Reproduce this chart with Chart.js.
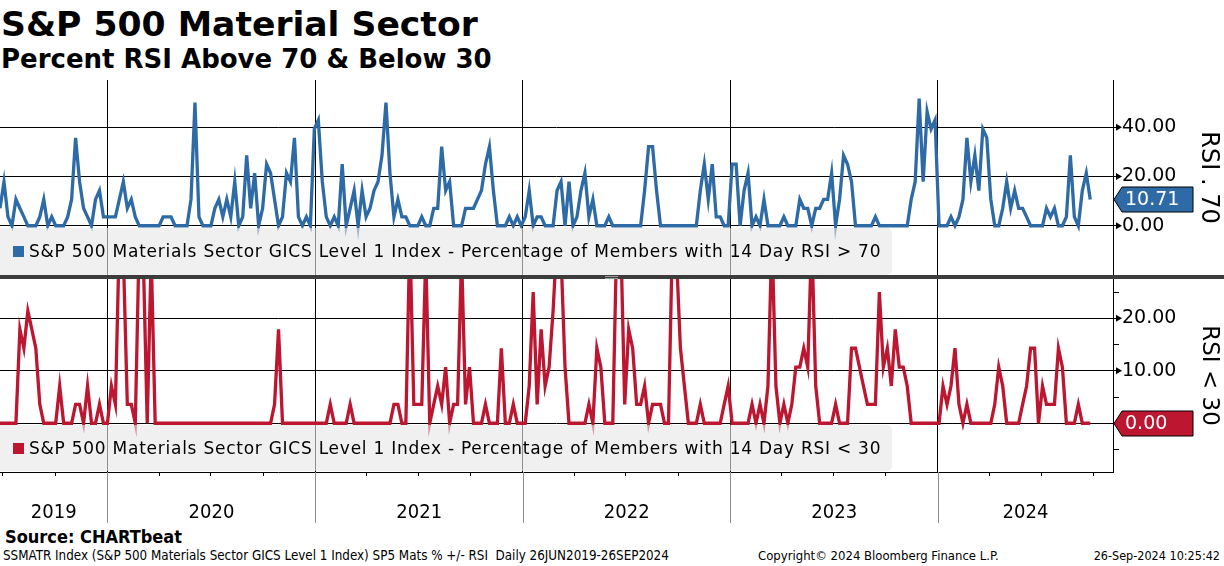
<!DOCTYPE html>
<html><head><meta charset="utf-8">
<script src="https://cdn.jsdelivr.net/npm/chart.js@4.4.1/dist/chart.umd.min.js"></script>
<style>
html,body{margin:0;padding:0;background:#fff;}
body{width:1224px;height:566px;position:relative;overflow:hidden;font-family:"DejaVu Sans",sans-serif;color:#000;}
.abs{position:absolute;white-space:nowrap;}
#title{left:1px;top:7px;font-size:34.6px;font-weight:bold;line-height:35px;}
#subtitle{left:1px;top:46px;font-size:26px;font-weight:bold;line-height:26px;}
canvas{position:absolute;left:0;}
#c1{top:80px;}
#c2{top:279px;}
#sep{left:0;top:275px;width:1224px;height:4px;background:#3c3c3c;}
#grip{left:605px;top:276px;width:13px;height:1px;border-top:1px solid #9a9a9a;border-bottom:1px solid #9a9a9a;}
.leg{left:0;width:892px;background:rgba(230,230,230,0.62);border-radius:0 5px 5px 0;font-size:17px;letter-spacing:0.75px;}
.leg .sq{display:inline-block;width:11px;height:11px;margin:0 5px 0 13px;vertical-align:0px;}
#leg1{top:228px;height:47px;line-height:47px;}
#leg2{top:425px;height:46px;line-height:46px;}
.cond{font-family:"DejaVu Sans Condensed","Liberation Sans Narrow",sans-serif;}
#source{left:5px;top:528px;font-size:18px;font-weight:bold;line-height:18px;}
.foot{top:549px;font-size:13px;line-height:14px;}
#f1{left:3px;font-size:13.3px;}
#f2{left:758px;}
#f3{right:4px;font-size:12.5px;}
</style>
</head>
<body>
<div id="title" class="abs">S&amp;P 500 Material Sector</div>
<div id="subtitle" class="abs">Percent RSI Above 70 &amp; Below 30</div>
<canvas id="c1" width="1224" height="195"></canvas>
<canvas id="c2" width="1224" height="246"></canvas>
<div id="sep" class="abs"></div>
<div id="grip" class="abs"></div>
<div id="leg1" class="abs leg"><span class="sq" style="background:#2d6aa6"></span>S&amp;P 500 Materials Sector GICS Level 1 Index - Percentage of Members with 14 Day RSI &gt; 70</div>
<div id="leg2" class="abs leg"><span class="sq" style="background:#bc1630"></span>S&amp;P 500 Materials Sector GICS Level 1 Index - Percentage of Members with 14 Day RSI &lt; 30</div>
<div id="source" class="abs cond">Source: CHARTbeat</div>
<div id="f1" class="abs foot cond">SSMATR Index (S&amp;P 500 Materials Sector GICS Level 1 Index) SP5 Mats % +/- RSI&nbsp; Daily 26JUN2019-26SEP2024</div>
<div id="f2" class="abs foot cond">Copyright© 2024 Bloomberg Finance L.P.</div>
<div id="f3" class="abs foot cond">26-Sep-2024 10:25:42</div>
<script>
// ---- data (weekly samples starting 26 Jun 2019) ----
const startDate = '2019-06-26';
const stepDays = 7;
const axisEndDate = '2024-11-04';
const yearLabels = ['2019','2020','2021','2022','2023','2024'];
const rsiAbove70 = [
 7.1,17.9,3.6,0,10.7,7.1,3.6,0,0,0,
 3.6,10.7,0,3.6,0,0,0,3.6,10.7,35.7,
 17.9,7.1,3.6,0,10.7,14.3,3.6,3.6,3.6,3.6,
 10.7,17.9,7.1,10.7,3.6,0,0,0,0,0,
 0,3.6,3.6,3.6,0,0,0,0,10.7,50,
 3.6,0,0,0,7.1,10.7,3.6,10.7,3.6,17.9,
 0,3.6,28.6,7.1,21.4,0,7.1,25,21.4,10.7,
 0,3.6,21.4,17.9,35.7,3.6,0,3.6,0,39.3,
 42.9,17.9,3.6,0,3.6,0,25,0,7.1,14.3,
 0,14.3,3.6,7.1,14.3,17.9,28.6,50,21.4,3.6,
 10.7,3.6,3.6,0,0,0,3.6,0,0,7.1,
 7.1,32.1,14.3,17.9,0,0,0,7.1,7.1,7.1,
 10.7,14.3,25,32.1,14.3,0,0,0,3.6,0,
 3.6,0,3.6,14.3,0,3.6,3.6,0,0,0,
 14.3,17.9,0,17.9,0,3.6,14.3,21.4,3.6,10.7,
 0,0,0,3.6,0,0,0,0,0,0,
 0,0,14.3,32.1,32.1,14.3,0,0,0,0,
 0,0,0,0,0,0,14.3,25,10.7,25,
 3.6,3.6,0,0,25,25,0,14.3,21.4,0,
 3.6,0,10.7,0,0,0,0,3.6,0,0,
 0,10.7,7.1,7.1,0,7.1,7.1,10.7,10.7,21.4,
 0,10.7,28.6,25,17.9,0,0,0,0,0,
 3.6,0,0,0,0,0,0,0,0,10.7,
 17.9,51.7,17.9,46.4,39.3,42.9,0,0,0,3.6,
 0,3.6,10.7,35.7,17.9,28.6,14.3,39.3,35.7,10.7,
 0,0,7.1,17.9,7.1,14.3,7.1,7.1,3.6,0,
 0,0,0,7.1,3.6,7.1,0,0,3.6,28.6,
 3.6,0,14.3,21.4,10.71
];
const rsiBelow30 = [
 0,0,0,0,0,17.9,14.3,21.4,17.9,14.3,
 3.6,0,0,0,0,7.1,0,0,0,3.6,
 3.6,0,7.1,0,0,3.6,0,0,7.1,3.6,
 35.7,32.1,3.6,3.6,0,35.7,32.1,0,32.1,0,
 0,0,0,0,0,0,0,0,0,0,
 0,0,0,0,0,0,0,0,0,0,
 0,0,0,0,0,0,0,0,0,3.6,
 17.9,0,0,0,0,0,0,0,0,0,
 0,0,0,3.6,0,0,0,0,3.6,0,
 0,0,0,0,0,0,0,0,0,3.6,
 3.6,0,0,35.7,3.6,3.6,3.6,32.1,0,3.6,
 7.1,3.6,10.7,0,3.6,3.6,32.1,3.6,10.7,0,
 0,0,3.6,0,0,0,14.3,0,0,3.6,
 0,0,0,7.1,25,3.6,17.9,7.1,10.7,21.4,
 35.7,32.1,10.7,0,0,0,0,0,3.6,0,
 14.3,10.7,0,0,0,35.7,35.7,3.6,17.9,14.3,
 3.6,3.6,7.1,0,3.6,3.6,3.6,0,0,35.7,
 32.1,14.3,7.1,0,0,0,3.6,0,0,0,
 0,0,3.6,7.1,0,0,0,0,0,3.6,
 0,3.6,0,7.1,35.7,7.1,0,3.6,0,3.6,
 10.7,10.7,14.3,10.7,35.7,7.1,0,0,0,0,
 3.6,0,0,0,14.3,14.3,10.7,7.1,3.6,3.6,
 3.6,25,10.7,14.3,7.1,17.9,10.7,10.7,7.1,0,
 0,0,0,0,0,0,0,7.1,3.6,7.1,
 14.3,3.6,0,3.6,0,0,0,0,0,0,
 3.6,10.7,7.1,0,0,0,0,3.6,7.1,14.3,
 14.3,0,7.1,3.6,3.6,3.6,14.3,10.7,0,0,
 0,3.6,0,0,0
];
const topAxis = {min:-20, max:59.2, step:10, major:[0,20,40], title:'RSI . 70', titleSize:24};
const botAxis = {min:-9.3, max:27.5, step:5, major:[0,10,20], title:'RSI < 30', titleSize:23};

// ---- helpers ----
const DAY = 86400000;
const t0 = Date.parse(startDate + 'T00:00:00Z');
const dayOf = (y,m,d) => Math.round((Date.UTC(y,m,d) - t0) / DAY);
const xMax = Math.round((Date.parse(axisEndDate + 'T00:00:00Z') - t0) / DAY);
const yearStarts = [2020,2021,2022,2023,2024].map(y => dayOf(y,0,1));
const bounds = [0, ...yearStarts, xMax];
const yearMids = yearLabels.map((l,i) => (bounds[i] + bounds[i+1]) / 2);
const quarterTicks = [];
for (let y = 2019; y <= 2024; y++) for (const m of [3,6,9]) {
  const d = dayOf(y,m,1); if (d >= 0 && d <= xMax) quarterTicks.push(d);
}
const toPts = arr => arr.map((v,i) => ({x: i * stepDays, y: v}));

const BLUE = '#2d6aa6', RED = '#bc1630';
const FONT = '"DejaVu Sans", sans-serif';
const CFONT = '"DejaVu Sans Condensed", "Liberation Sans Narrow", sans-serif';
const AXIS_W = 111;

const markerPlugin = {
  id: 'marker',
  afterDraw(chart, args, opts) {
    const ctx = chart.ctx, ys = chart.scales.y, area = chart.chartArea;
    const x0 = area.right;
    ctx.save();
    ctx.fillStyle = '#000';
    opts.major.forEach(v => {
      const py = ys.getPixelForValue(v);
      ctx.beginPath(); ctx.moveTo(x0 + 3, py - 3.5); ctx.lineTo(x0 + 9, py); ctx.lineTo(x0 + 3, py + 3.5); ctx.closePath(); ctx.fill();
    });
    const data = chart.data.datasets[0].data;
    const last = data[data.length - 1].y;
    const py = Math.round(ys.getPixelForValue(last)) + 0.5;
    ctx.beginPath();
    ctx.moveTo(x0 + 1, py); ctx.lineTo(x0 + 9, py - 12.5); ctx.lineTo(x0 + 80, py - 12.5);
    ctx.lineTo(x0 + 80, py + 12.5); ctx.lineTo(x0 + 9, py + 12.5); ctx.closePath();
    ctx.fillStyle = opts.color; ctx.fill();
    ctx.strokeStyle = '#000'; ctx.lineWidth = 1; ctx.stroke();
    ctx.fillStyle = '#fff'; ctx.font = '19px ' + FONT; ctx.textBaseline = 'middle'; ctx.textAlign = 'left';
    ctx.fillText(last.toFixed(2), x0 + 12, py + 1);
    if (opts.yearLines) {
      const xs = chart.scales.x;
      ctx.strokeStyle = '#8c8c8c'; ctx.lineWidth = 1;
      yearStarts.forEach(d => {
        const px = Math.round(xs.getPixelForValue(d)) + 0.5;
        ctx.beginPath(); ctx.moveTo(px, area.bottom); ctx.lineTo(px, area.bottom + 51); ctx.stroke();
      });
    }
    ctx.restore();
  }
};

function yScale(ax) {
  return {
    position: 'right', min: ax.min, max: ax.max,
    ticks: {
      stepSize: ax.step, includeBounds: false, color: '#000', padding: 3,
      font: {family: FONT, size: 19},
      callback: v => ax.major.includes(v) ? v.toFixed(2) : ''
    },
    grid: {
      color: c => (c.tick && ax.major.includes(c.tick.value)) ? '#000' : 'rgba(0,0,0,0)',
      tickColor: '#000', tickLength: 6, lineWidth: 1, drawTicks: true
    },
    border: {display: true, color: '#000', width: 1},
    title: {display: true, text: ax.title, color: '#000', font: {family: FONT, size: ax.titleSize}, padding: {top: 1, bottom: 0}},
    afterFit: s => { s.width = AXIS_W; s.paddingTop = 0; s.paddingBottom = 0; }
  };
}

function makeChart(id, values, color, ax, showX) {
  const xScale = {
    type: 'linear', min: 0, max: xMax,
    afterBuildTicks: s => {
      const arr = showX ? [...quarterTicks, ...yearStarts, ...yearMids] : [...yearStarts];
      s.ticks = arr.sort((a,b) => a - b).map(v => ({value: v}));
    },
    ticks: {
      display: showX, autoSkip: false, maxRotation: 0, minRotation: 0, padding: 25,
      color: '#000', font: {family: CFONT, size: 20},
      callback: v => { const i = yearMids.indexOf(v); return i >= 0 ? yearLabels[i] : ''; }
    },
    grid: {
      color: c => (c.tick && yearStarts.includes(c.tick.value)) ? '#000' : 'rgba(0,0,0,0)',
      tickColor: c => (c.tick && quarterTicks.includes(c.tick.value)) ? '#000' : 'rgba(0,0,0,0)',
      drawTicks: showX, tickLength: 4, lineWidth: 1
    },
    border: {display: showX, color: '#000', width: 1},
    afterFit: s => { s.height = showX ? 53 : 0; s.paddingLeft = 0; s.paddingRight = 0; }
  };
  return new Chart(document.getElementById(id), {
    type: 'line',
    data: {datasets: [{data: toPts(values), borderColor: color, borderWidth: 3.3, pointRadius: 0, tension: 0, fill: false, borderJoinStyle: 'miter'}]},
    options: {
      responsive: false, animation: false, devicePixelRatio: 1,
      layout: {padding: 0},
      plugins: {legend: {display: false}, tooltip: {enabled: false},
        marker: {major: ax.major, color: color, yearLines: showX}},
      scales: {x: xScale, y: yScale(ax)}
    },
    plugins: [markerPlugin]
  });
}

makeChart('c1', rsiAbove70, BLUE, topAxis, false);
makeChart('c2', rsiBelow30, RED, botAxis, true);
</script>
</body></html>
